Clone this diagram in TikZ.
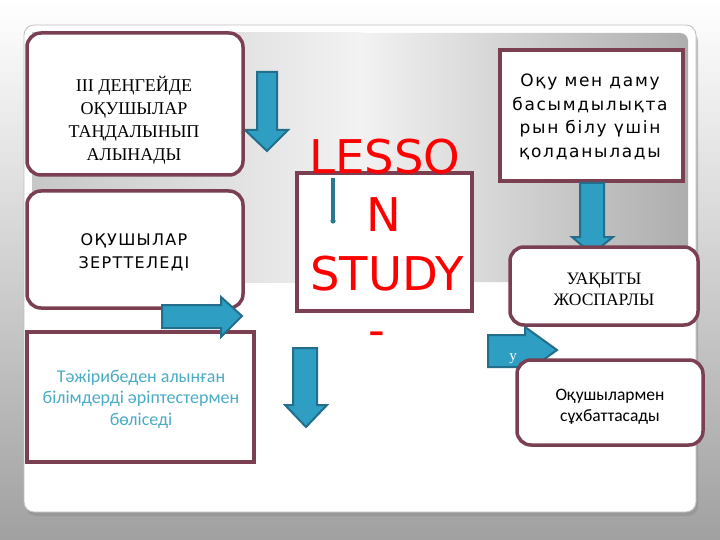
\documentclass[tikz,border=0pt]{standalone}
\usepackage{fontspec}
\setmainfont{Liberation Serif}
\newfontfamily\dvs[LetterSpace=8]{DejaVu Sans}
\newfontfamily\dvt[LetterSpace=10]{DejaVu Sans}
\newfontfamily\dvn{DejaVu Sans}
\newfontfamily\carl{Carlito}
\definecolor{maroon}{RGB}{122,63,80}
\definecolor{arrfill}{RGB}{46,158,195}
\definecolor{arrdraw}{RGB}{35,110,138}
\definecolor{tealtxt}{RGB}{75,172,198}
\definecolor{thinarr}{RGB}{40,120,145}
\tikzset{
  box/.style={draw=maroon, line width=3.5pt, fill=white, inner sep=0pt},
  rbox/.style={box, rounded corners=14pt},
  arr/.style={fill=arrfill, draw=arrdraw, line width=2pt, line join=miter},
  txt/.style={align=center, inner sep=0pt, anchor=base},
}
\begin{document}
\begin{tikzpicture}[x=1pt,y=-1pt]
\useasboundingbox (0,0) rectangle (720,540);
% page background
\shade[top color=white, bottom color=black!37] (0,0) rectangle (720,540);
% panel shadow and panel
\fill[black!45, opacity=0.5, rounded corners=10pt] (26,31) rectangle (698,516);
\filldraw[fill=white, draw=black!25, line width=0.8pt, rounded corners=10pt] (24,25) rectangle (696,512);
% grey band
\shade[left color=black!22, right color=black!5] (32,282) rectangle (361,33);
\shade[left color=black!5, right color=black!32] (360,282) -- (360,33) -- (680,33)
  arc[start angle=90, end angle=0, radius=8pt] -- (688,282) -- cycle;
% down arrow 1
\draw[arr] (257,72) -- (277,72) -- (277,130) -- (288,130) -- (267,151) -- (245,130) -- (257,130) -- cycle;
% boxes
\node[rbox, minimum width=216pt, minimum height=142pt] (b1) at (135,104) {};
\node[rbox, minimum width=216pt, minimum height=117pt] (b2) at (135,249.5) {};
\node[box, minimum width=227pt, minimum height=130pt] (b3) at (140.5,397) {};
\node[box, minimum width=183pt, minimum height=131pt] (btr) at (591.5,115.5) {};
\node[box, minimum width=175pt, minimum height=138pt] (bc) at (384.5,242) {};
% right arrow 1
\draw[arr] (162,305) -- (221,305) -- (221,297) -- (242,316) -- (221,337) -- (221,328) -- (162,328) -- cycle;
% down arrow 2
\draw[arr] (293,348) -- (317,348) -- (317,405) -- (327,405) -- (306,427) -- (285,405) -- (293,405) -- cycle;
% down arrow 3
\draw[arr] (580,183) -- (604,183) -- (604,237) -- (613,237) -- (592,254) -- (572,237) -- (580,237) -- cycle;
% small right arrow
\draw[arr] (488,335) -- (525,335) -- (525,327) -- (557,350) -- (525,373) -- (525,367) -- (488,367) -- cycle;
\node[rbox, minimum width=188pt, minimum height=78pt] (b4) at (604,286) {};
\node[rbox, minimum width=186pt, minimum height=85pt] (b5) at (610,402.5) {};
\node[txt, text=white, font=\fontsize{15}{15}\selectfont] (ty) at (513,360) {у};
% texts (base anchor = last line baseline)
\node[txt, font=\fontsize{18}{23.3}\selectfont] (t1) at (134,161)
  {ІІІ ДЕҢГЕЙДЕ\\ ОҚУШЫЛАР\\ ТАҢДАЛЫНЫП\\ АЛЫНАДЫ};
\node[txt, font=\dvs\fontsize{16}{23}\selectfont] (t2) at (134,268)
  {ОҚУШЫЛАР\\ ЗЕРТТЕЛЕДІ};
\node[txt, text=tealtxt, font=\carl\fontsize{18}{21.5}\selectfont] (t3) at (141,425)
  {Тәжірибеден алынған\\ білімдерді әріптестермен\\ бөліседі};
\node[txt, font=\dvt\fontsize{17}{23.5}\selectfont] (ttr) at (590,157.5)
  {Оқу мен даму\\ басымдылықта\\ рын білу үшін\\ қолданылады};
\node[txt, font=\fontsize{17.5}{21}\selectfont] (t4) at (604,305)
  {УАҚЫТЫ\\ ЖОСПАРЛЫ};
\node[txt, font=\carl\fontsize{17.5}{21}\selectfont] (t5) at (610,421)
  {Оқушылармен\\ сұхбаттасады};
% LESSON STUDY
\node[txt, text=red, font=\dvn\fontsize{46.5}{46.5}\selectfont] (l1) at (385,174) {LESSO};
\node[txt, text=red, font=\dvn\fontsize{46.5}{46.5}\selectfont] (l2) at (384,232) {N};
\node[txt, text=red, font=\dvn\fontsize{46.5}{46.5}\selectfont] (l3) at (387,290) {STUDY};
\node[txt, text=red, font=\dvn\fontsize{46.5}{46.5}\selectfont] (l4) at (377,346) {-};
% thin arrow in centre box
\coordinate (ta) at (333,178);
\coordinate (tb) at (333,221);
\draw[thinarr, line width=3.5pt] (ta) -- (tb);
\fill[thinarr] (tb) circle (2.6pt);
\end{tikzpicture}
\end{document}
